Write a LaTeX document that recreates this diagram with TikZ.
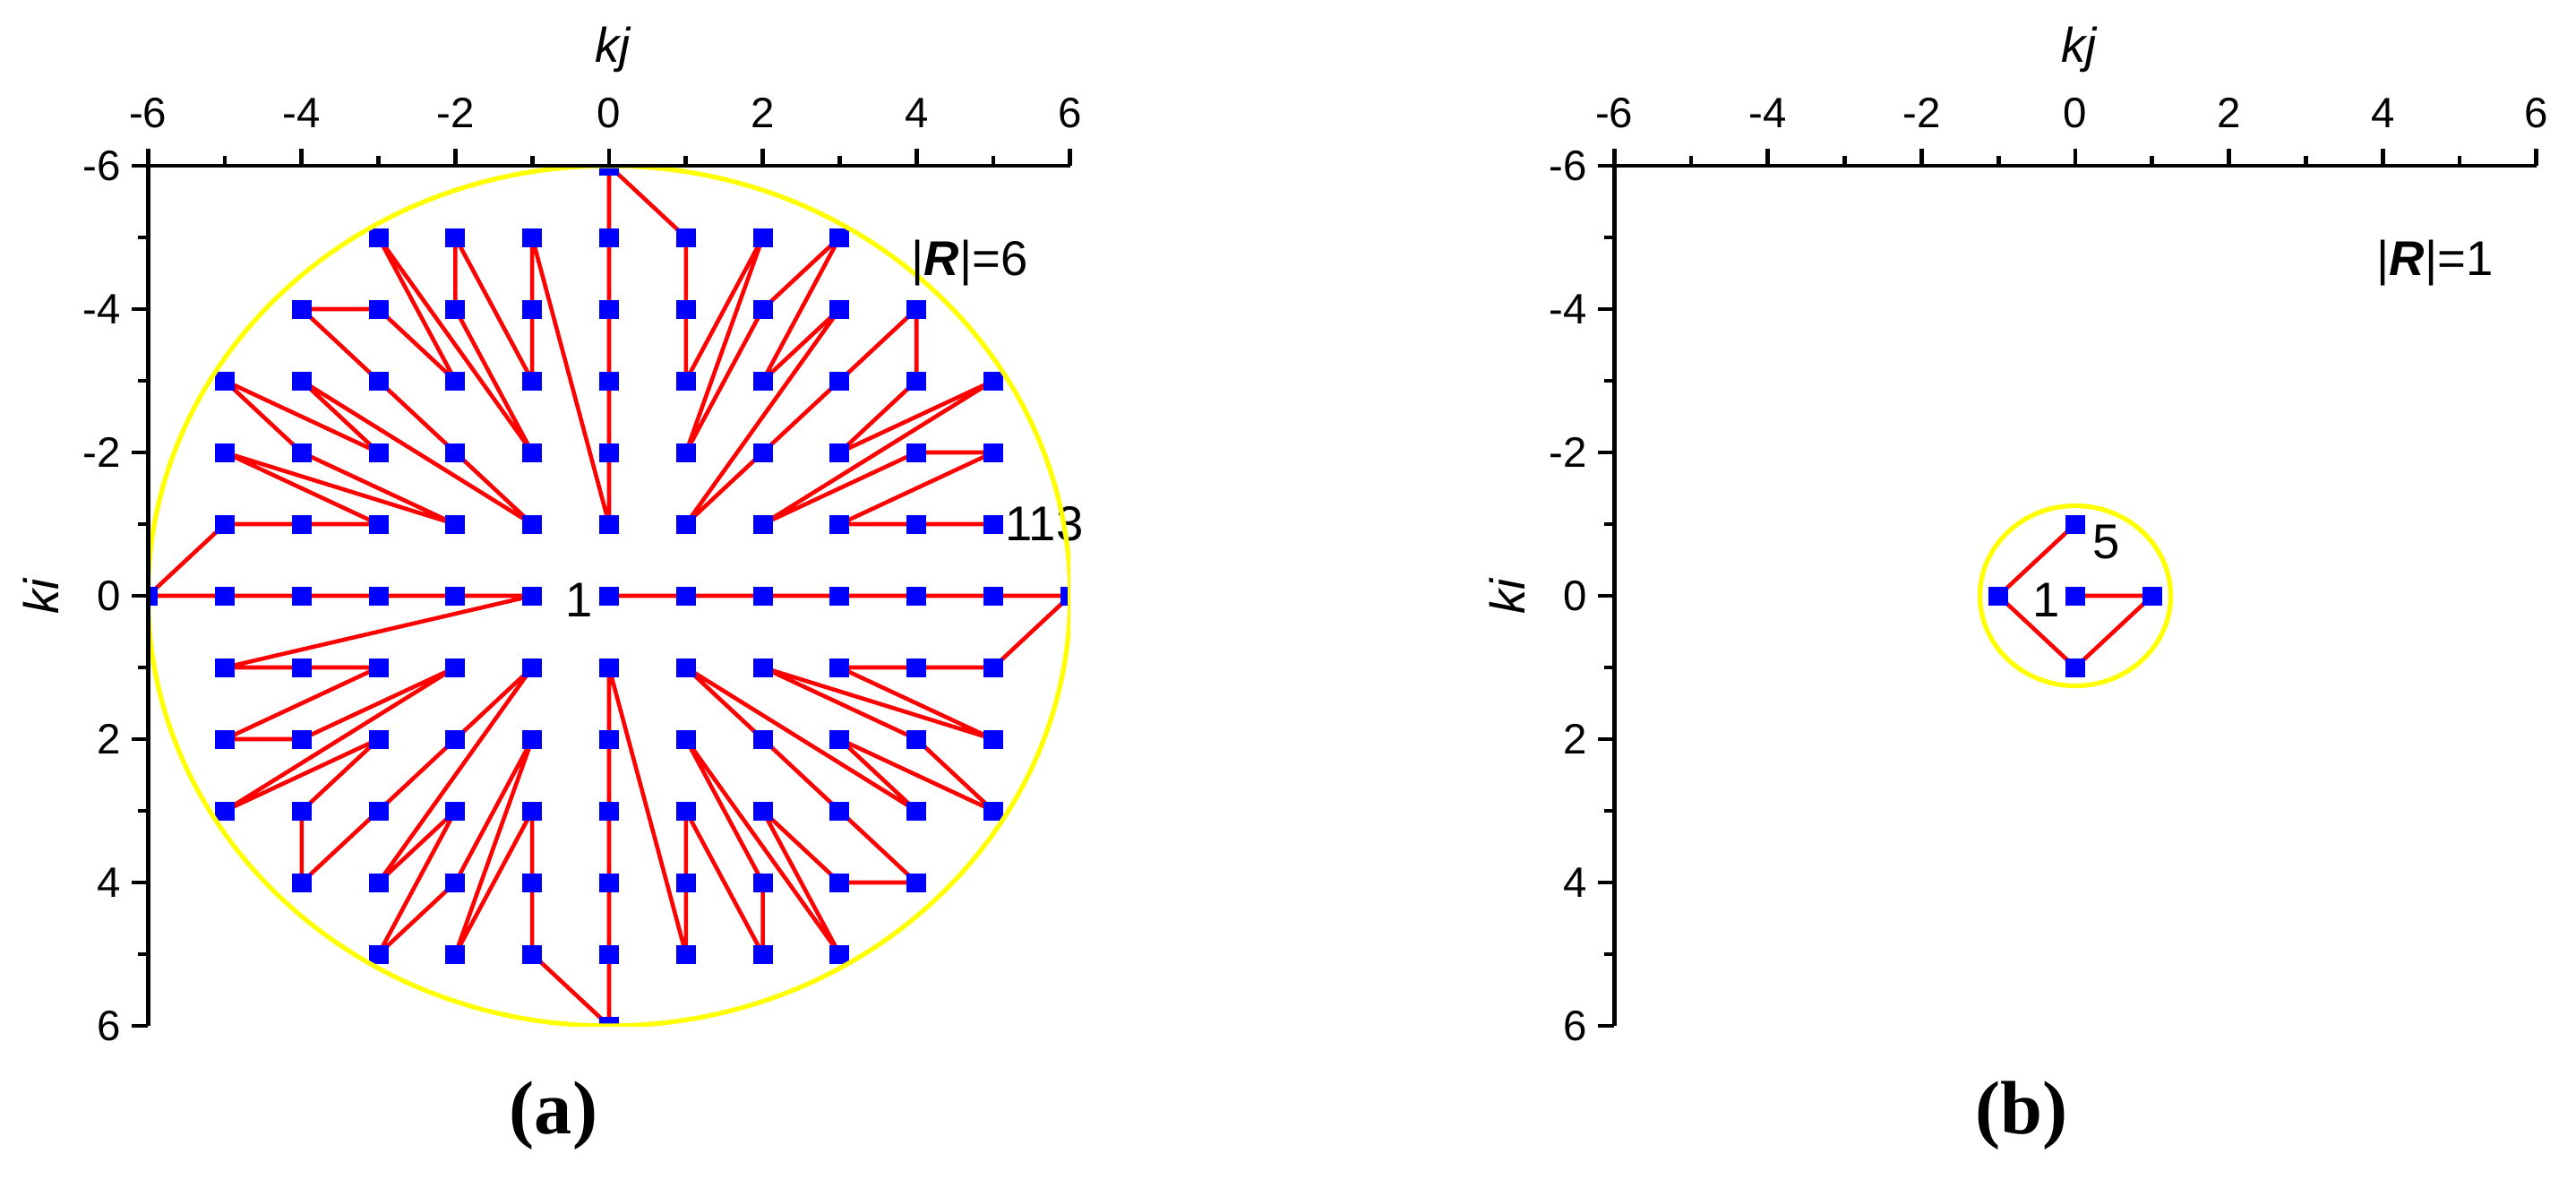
\documentclass[tikz,border=0pt]{standalone}
\usepackage{fontspec}
\setmainfont{Liberation Sans}
\newfontfamily\capfont{Liberation Serif}
\definecolor{pred}{RGB}{255,0,0}
\definecolor{pblue}{RGB}{0,0,255}
\definecolor{pyellow}{RGB}{255,255,0}
\tikzset{
  axisline/.style={line width=1.35pt, black},
  redline/.style={line width=1.3pt, pred, line join=round},
  ring/.style={line width=1.5pt, pyellow},
  sq/.style={rectangle, fill=pblue, inner sep=0pt, minimum width=0.22cm, minimum height=0.21cm},
  ticklab/.style={font=\fontsize{13.5}{15}\selectfont, inner sep=0pt},
  ttl/.style={font=\fontsize{15.5}{17}\selectfont, inner sep=0pt},
  panel/.style={font=\capfont\bfseries\fontsize{24}{28}\selectfont, inner sep=0pt},
}
\def\ptsA{0/0,1/0,2/0,3/0,4/0,5/0,6/0,5/1,4/1,3/1,5/2,2/1,4/2,5/3,3/2,4/3,1/1,2/2,3/3,4/4,3/4,2/3,3/5,1/2,2/4,2/5,1/3,1/4,1/5,%
0/1,0/2,0/3,0/4,0/5,0/6,-1/5,-1/4,-1/3,-2/5,-1/2,-2/4,-3/5,-2/3,-3/4,-1/1,-2/2,-3/3,-4/4,-4/3,-3/2,-5/3,-2/1,-4/2,-5/2,-3/1,-4/1,-5/1,%
-1/0,-2/0,-3/0,-4/0,-5/0,-6/0,-5/-1,-4/-1,-3/-1,-5/-2,-2/-1,-4/-2,-5/-3,-3/-2,-4/-3,-1/-1,-2/-2,-3/-3,-4/-4,-3/-4,-2/-3,-3/-5,-1/-2,-2/-4,-2/-5,-1/-3,-1/-4,-1/-5,%
0/-1,0/-2,0/-3,0/-4,0/-5,0/-6,1/-5,1/-4,1/-3,2/-5,1/-2,2/-4,3/-5,2/-3,3/-4,1/-1,2/-2,3/-3,4/-4,4/-3,3/-2,5/-3,2/-1,4/-2,5/-2,3/-1,4/-1,5/-1}
\def\ptsB{0/0,1/0,0/1,-1/0,0/-1}
\newcommand\myaxes[1]{%
  \draw[axisline] (-6,-6) -- (6,-6);
  \draw[axisline] (-6,-6) -- (-6,6);
  \foreach \v in {-6,-4,...,6}{%
    \draw[axisline] (\v,-6) -- ++(0,0.19cm);
    \draw[axisline] (-6,\v) -- ++(-0.18cm,0);
    \node[ticklab,anchor=base] (#1xt\v) at ([yshift=0.42cm]\v,-6) {\v};
    \node[ticklab,anchor=east] (#1yt\v) at ([xshift=-0.30cm]-6,\v) {\v};
  }
  \foreach \v in {-5,-3,...,5}{%
    \draw[axisline] (\v,-6) -- ++(0,0.11cm);
    \draw[axisline] (-6,\v) -- ++(-0.11cm,0);
  }
  \node[ttl,anchor=base] (#1kj) at ([xshift=0.05cm,yshift=1.15cm]0,-6) {\textit{kj}};
  \node[ttl,rotate=90,anchor=base] (#1ki) at ([xshift=-1.0cm]-6,0) {\textit{ki}};
}
\begin{document}
\begin{tikzpicture}
\useasboundingbox (0,0) rectangle (28.76,-13.25);
% ---------- panel (a)
\begin{scope}[shift={(6.80cm,-6.65cm)}, x=0.858cm, y=-0.80cm]
  \foreach[count=\k] \a/\b in \ptsA { \coordinate (a\k) at (\a,\b); }
  \node[ttl, anchor=base east] (onea) at ([xshift=-0.175cm,yshift=-0.23cm]a1) {1};
  \node[ttl, anchor=base west] (lasta) at ([xshift=0.13cm,yshift=-0.18cm]a113) {113};
  \begin{scope}
    \clip (-6,-6) rectangle (6,6);
    \draw[redline] (a1) \foreach \k in {2,...,113}{ -- (a\k)};
    \foreach \k in {1,...,113}{ \node[sq] (sa\k) at (a\k) {}; }
    \draw[ring] (0,0) ellipse [x radius=5.148cm, y radius=4.8cm];
  \end{scope}
  \myaxes{A}
\end{scope}
% ---------- panel (b)
\begin{scope}[shift={(23.17cm,-6.65cm)}, x=0.858cm, y=-0.80cm]
  \foreach[count=\k] \a/\b in \ptsB { \coordinate (b\k) at (\a,\b); }
  \node[ttl, anchor=base east] (oneb) at ([xshift=-0.17cm,yshift=-0.23cm]b1) {1};
  \node[ttl, anchor=base west] (lastb) at ([xshift=0.19cm,yshift=-0.38cm]b5) {5};
  \draw[redline] (b1) \foreach \k in {2,...,5}{ -- (b\k)};
  \foreach \k in {1,...,5}{ \node[sq] (sb\k) at (b\k) {}; }
  \draw[ring] (0,0) ellipse [x radius=1.065cm, y radius=1.005cm];
  \myaxes{B}
\end{scope}
% ---------- texts
\node[ttl,anchor=base west] (ra) at (10.17,-3.07) {|\textbf{\textit{R}}|=6};
\node[ttl,anchor=base west] (rb) at (26.53,-3.07) {|\textbf{\textit{R}}|=1};
\node[panel,anchor=base] (capa) at (6.18,-12.65) {(a)};
\node[panel,anchor=base] (capb) at (22.57,-12.65) {(b)};
\end{tikzpicture}
\end{document}
